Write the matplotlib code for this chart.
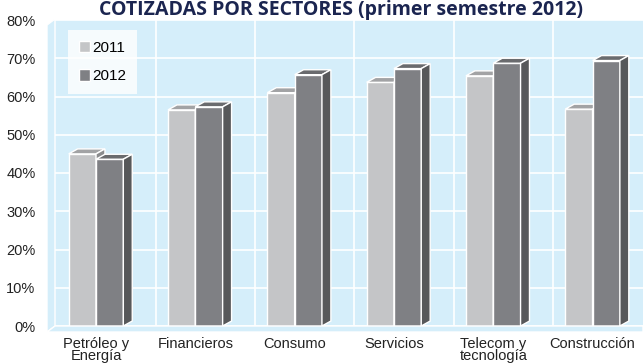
import numpy as np
import matplotlib.pyplot as plt
from matplotlib.patches import Polygon

plt.rcParams['font.family'] = ['Liberation Sans', 'DejaVu Sans']

sectores = ['Petróleo y\nEnergía', 'Financieros', 'Consumo', 'Servicios',
            'Telecom y\ntecnología', 'Construcción']
v2011 = [45.0, 56.5, 61.0, 63.7, 65.4, 56.7]
v2012 = [43.6, 57.3, 65.7, 67.3, 68.7, 69.4]
yticks = [0, 10, 20, 30, 40, 50, 60, 70, 80]

W, H = 643, 363
fig = plt.figure(figsize=(W / 100, H / 100), dpi=100)
ax = fig.add_axes([55 / W, 37 / H, 588 / W, 306 / H])
ax.set_facecolor('#d5eefa')

# left wall and floor of the 3d box (pixel coords, top-left origin)
def px(pts):
    return [(a / W, 1 - b / H) for a, b in pts]

fig.patches.append(Polygon(px([(47, 332), (47, 25), (55, 19), (55, 326)]),
                           closed=True, facecolor='#d5eefa', edgecolor='white',
                           lw=1.0, transform=fig.transFigure, zorder=0))
fig.patches.append(Polygon(px([(47, 332), (55, 326), (643, 326), (643, 332)]),
                           closed=True, facecolor='#d5eefa', edgecolor='white',
                           lw=1.0, transform=fig.transFigure, zorder=0))

x = np.arange(len(sectores))
w = 0.275
dx = 0.09      # depth in x (data units)
dy = 1.3       # depth in y (data units)


def bar3d(xs, vals, front, top, side):
    bars = ax.bar(xs, vals, width=w, align='edge', color=front,
                  edgecolor='white', linewidth=1.0, zorder=3)
    for b in bars:
        x0, h = b.get_x(), b.get_height()
        x1 = x0 + b.get_width()
        ax.add_patch(Polygon([(x0, h), (x0 + dx, h + dy), (x1 + dx, h + dy), (x1, h)],
                             closed=True, facecolor=top, edgecolor='white',
                             linewidth=1.0, zorder=3))
        ax.add_patch(Polygon([(x1, 0), (x1, h), (x1 + dx, h + dy), (x1 + dx, dy)],
                             closed=True, facecolor=side, edgecolor='white',
                             linewidth=1.0, zorder=3))
    return bars


b1 = bar3d(x - w, v2011, '#c4c5c7', '#a2a3a5', '#8a8b8d')
b2 = bar3d(x, v2012, '#7f8084', '#6a6b6e', '#57585a')

ax.set_xlim(-0.413, 5.508)
ax.set_ylim(0, 80)
ax.set_yticks(yticks)
ax.set_yticklabels([f'{t}%' for t in yticks], fontsize=10.5, color='#222222')
ax.set_xticks(x)
ax.set_xticklabels(sectores, fontsize=10.5, color='#222222', linespacing=0.8)
for xs in x[:-1] + 0.6:
    ax.axvline(xs, color='white', lw=1.2, zorder=1)
ax.yaxis.grid(True, color='white', lw=1.2, zorder=1)
ax.tick_params(axis='y', length=0, pad=14)
ax.tick_params(axis='x', length=0, pad=8)
for s in ax.spines.values():
    s.set_visible(False)

leg = ax.legend([b1, b2], ['2011', '2012'], loc='upper left',
                bbox_to_anchor=(0.022, 0.967), frameon=True, fancybox=False,
                fontsize=11, handlelength=0.75, handleheight=0.75,
                handletextpad=0.15, labelspacing=0.95, borderpad=0.7,
                borderaxespad=0)
leg.get_frame().set_edgecolor('white')
leg.get_frame().set_linewidth(0)

fig.text(0.53, 1.0, 'COTIZADAS POR SECTORES (primer semestre 2012)',
         ha='center', va='top', fontsize=14, fontweight='bold',
         color='#1b2550', family=['Open Sans', 'DejaVu Sans'])

fig.savefig('out.png', dpi=100)
